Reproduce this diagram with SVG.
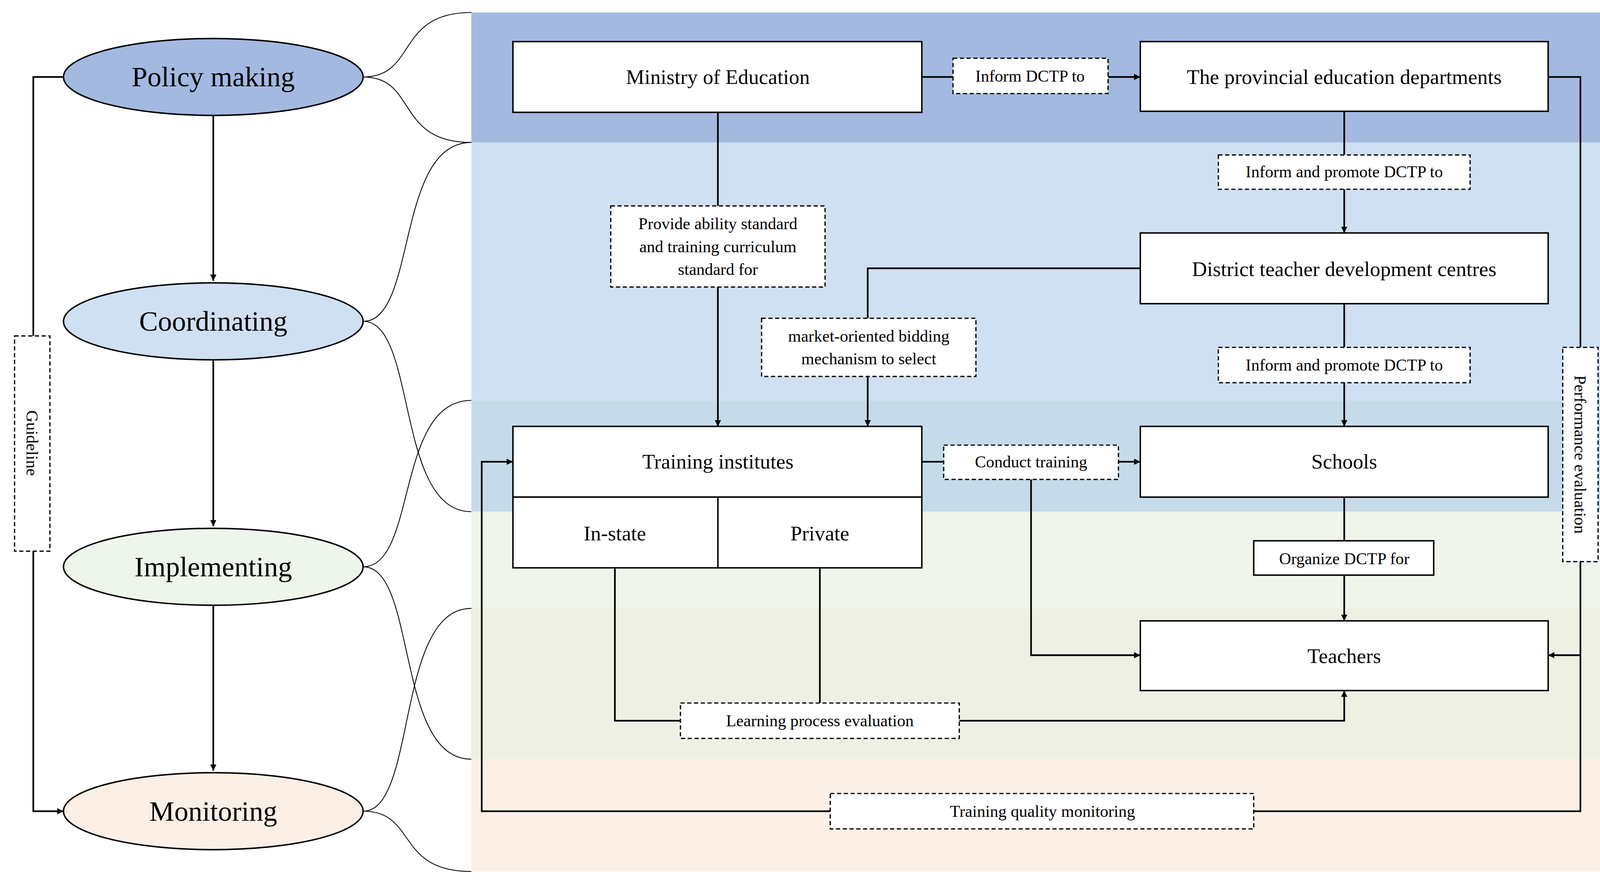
<svg xmlns="http://www.w3.org/2000/svg" width="4163" height="2264" viewBox="0 0 4163 2264">
<defs>
<marker id="ah" viewBox="0 0 10 10" refX="10" refY="5" markerWidth="6" markerHeight="6" markerUnits="userSpaceOnUse" orient="auto"><path d="M0,0 L10,5 L0,10 z" fill="#000"/></marker>
<style>
.box{fill:#fff;stroke:#000;stroke-width:1.4}
.dash{fill:#fff;stroke:#000;stroke-width:1.2;stroke-dasharray:4,2.5}
.ell{stroke:#000;stroke-width:1.4}
.t{font-family:"Liberation Serif",serif;text-anchor:middle;dominant-baseline:central;fill:#000}
.big{font-size:27px}.mid{font-size:20px}.sm{font-size:16px}
.c{fill:none;stroke:#000;stroke-width:1.6}
.br{fill:none;stroke:#000;stroke-width:0.8}
</style>
</defs>
<rect width="4163" height="2264" fill="#fff"/>
<g transform="scale(2.6635)">
<g id="bands">
<rect x="453" y="12" width="1104" height="125" fill="#A3B9E0"/>
<rect x="453" y="137" width="1104" height="248" fill="#CFE0F2"/>
<rect x="453" y="385" width="1104" height="107" fill="#C5DBEA"/>
<rect x="453" y="492" width="1104" height="93" fill="#EFF5EB"/>
<rect x="453" y="585" width="1104" height="145" fill="#EEF0E3"/>
<rect x="453" y="730" width="1104" height="108" fill="#FBEFE6"/>
</g>
<g id="braces">
<path class="br" d="M349,74 C401,74 380,12 453,12 M349,74 C401,74 380,137 453,137"/>
<path class="br" d="M349,309 C401,309 380,137 453,137 M349,309 C401,309 380,492 453,492"/>
<path class="br" d="M349,545 C401,545 380,385 453,385 M349,545 C401,545 380,730 453,730"/>
<path class="br" d="M349,780 C401,780 380,585 453,585 M349,780 C401,780 380,838 453,838"/>
</g>
<g id="connectors">
<path class="c" d="M205,111 V270" marker-end="url(#ah)"/>
<path class="c" d="M205,346 V506" marker-end="url(#ah)"/>
<path class="c" d="M205,582 V741" marker-end="url(#ah)"/>
<path class="c" d="M61,74 H32 V323"/>
<path class="c" d="M32,530 V780 H61" marker-end="url(#ah)"/>
<path class="c" d="M886,74 H916"/>
<path class="c" d="M1065,74 H1096" marker-end="url(#ah)"/>
<path class="c" d="M690,108 V198"/>
<path class="c" d="M690,276 V410" marker-end="url(#ah)"/>
<path class="c" d="M1292,107 V149"/>
<path class="c" d="M1292,182 V224" marker-end="url(#ah)"/>
<path class="c" d="M1292,292 V334"/>
<path class="c" d="M1292,368 V410" marker-end="url(#ah)"/>
<path class="c" d="M1096,258 H834 V306"/>
<path class="c" d="M834,362 V410" marker-end="url(#ah)"/>
<path class="c" d="M886,444 H907"/>
<path class="c" d="M1075,444 H1096" marker-end="url(#ah)"/>
<path class="c" d="M991,461 V630 H1096" marker-end="url(#ah)"/>
<path class="c" d="M1292,478 V520"/>
<path class="c" d="M1292,553 V597" marker-end="url(#ah)"/>
<path class="c" d="M591,546 V693 H654"/>
<path class="c" d="M788,546 V676"/>
<path class="c" d="M922,693 H1292 V664" marker-end="url(#ah)"/>
<path class="c" d="M1488,74 H1519 V334"/>
<path class="c" d="M1519,540 V780 H1205"/>
<path class="c" d="M1519,630 H1488" marker-end="url(#ah)"/>
<path class="c" d="M798,780 H463 V444 H493" marker-end="url(#ah)"/>
</g>
<g id="policy"><ellipse class="ell" cx="205" cy="74" rx="144" ry="37" fill="#A3B9E0"/><text class="t big" x="205" y="74">Policy making</text></g>
<g id="coordinating"><ellipse class="ell" cx="205" cy="309" rx="144" ry="37" fill="#CFE0F2"/><text class="t big" x="205" y="309">Coordinating</text></g>
<g id="implementing"><ellipse class="ell" cx="205" cy="545" rx="144" ry="37" fill="#EEF5EA"/><text class="t big" x="205" y="545">Implementing</text></g>
<g id="monitoring"><ellipse class="ell" cx="205" cy="780" rx="144" ry="37" fill="#FBEFE6"/><text class="t big" x="205" y="780">Monitoring</text></g>
<g id="guideline"><rect class="dash" x="14" y="323" width="34" height="207"/><text class="t sm" transform="translate(31,426) rotate(90)">Guideline</text></g>
<g id="ministry"><rect class="box" x="493" y="40" width="393" height="68"/><text class="t mid" x="690" y="74">Ministry of Education</text></g>
<g id="inform1"><rect class="dash" x="916" y="56" width="149" height="34"/><text class="t sm" x="990" y="73">Inform DCTP to</text></g>
<g id="provincial"><rect class="box" x="1096" y="40" width="392" height="67"/><text class="t mid" x="1292" y="74">The provincial education departments</text></g>
<g id="inform2"><rect class="dash" x="1171" y="149" width="242" height="33"/><text class="t sm" x="1292" y="165">Inform and promote DCTP to</text></g>
<g id="district"><rect class="box" x="1096" y="224" width="392" height="68"/><text class="t mid" x="1292" y="259">District teacher development centres</text></g>
<g id="inform3"><rect class="dash" x="1171" y="334" width="242" height="34"/><text class="t sm" x="1292" y="351">Inform and promote DCTP to</text></g>
<g id="schools"><rect class="box" x="1096" y="410" width="392" height="68"/><text class="t mid" x="1292" y="444">Schools</text></g>
<g id="training"><rect class="box" x="493" y="410" width="393" height="68"/><text class="t mid" x="690" y="444">Training institutes</text>
<rect class="box" x="493" y="478" width="197" height="68"/><text class="t mid" x="591" y="513">In-state</text>
<rect class="box" x="690" y="478" width="196" height="68"/><text class="t mid" x="788" y="513">Private</text></g>
<g id="provide"><rect class="dash" x="587" y="198" width="206" height="78"/><text class="t sm" x="690" y="215">Provide ability standard</text><text class="t sm" x="690" y="237">and training curriculum</text><text class="t sm" x="690" y="259">standard for</text></g>
<g id="market"><rect class="dash" x="732" y="306" width="206" height="56"/><text class="t sm" x="835" y="323">market-oriented bidding</text><text class="t sm" x="835" y="345">mechanism to select</text></g>
<g id="conduct"><rect class="dash" x="907" y="428" width="168" height="33"/><text class="t sm" x="991" y="444">Conduct training</text></g>
<g id="organize"><rect class="box" x="1205" y="520" width="173" height="33"/><text class="t sm" x="1292" y="537">Organize DCTP for</text></g>
<g id="teachers"><rect class="box" x="1096" y="597" width="392" height="67"/><text class="t mid" x="1292" y="631">Teachers</text></g>
<g id="learning"><rect class="dash" x="654" y="676" width="268" height="34"/><text class="t sm" x="788" y="693">Learning process evaluation</text></g>
<g id="tqm"><rect class="dash" x="798" y="763" width="407" height="34"/><text class="t sm" x="1002" y="780">Training quality monitoring</text></g>
<g id="performance"><rect class="dash" x="1502" y="334" width="34" height="206"/><text class="t sm" transform="translate(1519,437) rotate(90)">Performance evaluation</text></g>
</g>
</svg>
